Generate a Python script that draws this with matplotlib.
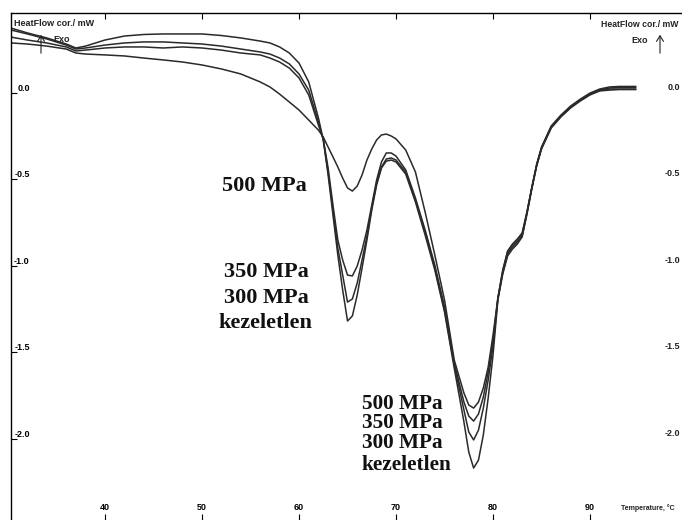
import matplotlib
matplotlib.use('Agg')
import matplotlib.pyplot as plt

plt.rcParams['font.family'] = ['Liberation Sans', 'DejaVu Sans']

temperature = [30.3, 32, 34, 36, 37, 38, 40, 42, 44, 46, 48, 50, 52, 54, 56, 57, 58, 59, 60, 61,
               62, 62.5, 63, 63.5, 64, 64.5, 65, 65.5, 66, 66.5, 67, 67.5, 68, 68.5, 69, 69.5, 70,
               71, 72, 73, 74, 75, 76, 77, 77.5, 78, 78.5, 79, 79.5, 80, 80.5, 81, 81.5, 82, 82.5,
               83, 83.5, 84, 84.5, 85, 86, 87, 88, 89, 90, 91, 92, 93, 94, 94.7]

kezeletlen = [0.372, 0.344, 0.315, 0.280, 0.257, 0.268, 0.303, 0.326, 0.335, 0.338,
              0.338, 0.338, 0.329, 0.315, 0.297, 0.286, 0.263, 0.228, 0.170, 0.061,
              -0.147, -0.274, -0.476, -0.707, -0.938, -1.140, -1.319, -1.290, -1.169, -1.013,
              -0.852, -0.678, -0.534, -0.436, -0.396, -0.390, -0.401, -0.471, -0.632, -0.823,
              -1.025, -1.267, -1.591, -1.902, -2.076, -2.168, -2.122, -1.977, -1.764, -1.516,
              -1.198, -1.048, -0.944, -0.904, -0.875, -0.834, -0.702, -0.557, -0.424, -0.326,
              -0.205, -0.141, -0.089, -0.049, -0.014, 0.009, 0.014, 0.017, 0.017, 0.017]

mpa300 = [0.361, 0.338, 0.309, 0.274, 0.251, 0.257, 0.274, 0.286, 0.292, 0.292,
          0.286, 0.280, 0.268, 0.251, 0.234, 0.222, 0.199, 0.165, 0.107, 0.014,
          -0.170, -0.274, -0.459, -0.678, -0.898, -1.054, -1.210, -1.192, -1.100, -0.967,
          -0.829, -0.667, -0.523, -0.430, -0.384, -0.378, -0.390, -0.459, -0.621, -0.805,
          -1.013, -1.256, -1.573, -1.833, -1.960, -2.006, -1.949, -1.822, -1.660, -1.464,
          -1.192, -1.042, -0.932, -0.892, -0.863, -0.829, -0.696, -0.551, -0.419, -0.320,
          -0.199, -0.136, -0.084, -0.043, -0.009, 0.014, 0.020, 0.020, 0.020, 0.020]

mpa350 = [0.320, 0.303, 0.286, 0.263, 0.240, 0.245, 0.257, 0.263, 0.263, 0.257,
          0.263, 0.257, 0.245, 0.228, 0.217, 0.199, 0.176, 0.141, 0.084, -0.014,
          -0.188, -0.268, -0.436, -0.650, -0.852, -0.967, -1.054, -1.059, -1.002, -0.909,
          -0.794, -0.650, -0.505, -0.401, -0.349, -0.349, -0.367, -0.447, -0.609, -0.794,
          -0.996, -1.238, -1.562, -1.787, -1.868, -1.897, -1.856, -1.758, -1.614, -1.429,
          -1.187, -1.031, -0.921, -0.880, -0.852, -0.817, -0.690, -0.551, -0.419, -0.320,
          -0.199, -0.136, -0.084, -0.043, -0.009, 0.014, 0.026, 0.029, 0.029, 0.029]

mpa500 = [0.286, 0.280, 0.268, 0.251, 0.228, 0.222, 0.217, 0.211, 0.199, 0.188,
          0.176, 0.159, 0.136, 0.107, 0.061, 0.032, -0.009, -0.055, -0.101, -0.159,
          -0.217, -0.257, -0.315, -0.372, -0.430, -0.494, -0.551, -0.569, -0.540, -0.476,
          -0.390, -0.326, -0.274, -0.245, -0.240, -0.251, -0.268, -0.332, -0.459, -0.690,
          -0.938, -1.198, -1.544, -1.735, -1.804, -1.822, -1.787, -1.706, -1.585, -1.400,
          -1.187, -1.025, -0.915, -0.875, -0.846, -0.811, -0.690, -0.546, -0.413, -0.315,
          -0.193, -0.130, -0.078, -0.038, -0.003, 0.020, 0.032, 0.035, 0.035, 0.035]

x_ticks = [40, 50, 60, 70, 80, 90]
y_ticks = [0.0, -0.5, -1.0, -1.5, -2.0]
y_tick_labels = ['0.0', '-0.5', '-1.0', '-1.5', '-2.0']
peak_labels = ['500 MPa', '350 MPa', '300 MPa', 'kezeletlen']

W, H = 682, 520
fig = plt.figure(figsize=(W / 100, H / 100), dpi=100)
fig.patch.set_facecolor('white')
ax = fig.add_axes([11 / W, 0, 671 / W, 507 / H])
ax.set_xlim(30.31, 99.48)
ax.set_ylim(-2.468, 0.459)

for series in [kezeletlen, mpa300, mpa350, mpa500]:
    ax.plot(temperature, series, color='#2a2a2a', lw=1.1, solid_joinstyle='round')

ax.spines['right'].set_visible(False)
ax.spines['bottom'].set_visible(False)
ax.spines['left'].set_linewidth(1.0)
ax.spines['top'].set_linewidth(1.0)

ax.set_xticks(x_ticks)
ax.set_xticklabels([str(t) for t in x_ticks])
ax.set_yticks(y_ticks)
ax.set_yticklabels(y_tick_labels)
ax.tick_params(axis='x', direction='in', length=4, width=0.8, top=True, bottom=True,
               labelsize=6.5, pad=-5.8)
ax.tick_params(axis='y', direction='in', length=4.5, width=0.8, labelsize=6.5, pad=-13.5)
for lbl in ax.get_xticklabels():
    lbl.set_fontweight('bold')
    lbl.set_va('bottom')
for lbl in ax.get_yticklabels():
    lbl.set_fontweight('bold')
    lbl.set_ha('right')
    lbl.set_va('bottom')

# right-hand axis labels
for v, s in zip(y_ticks, y_tick_labels):
    ypix = ax.transData.transform((50, v))[1]
    fig.text(680 / W, (ypix + 1) / H, s, ha='right', va='bottom', fontsize=6.5,
             fontweight='bold', color='#222')

# header texts
fig.text(14 / W, 1 - 23 / H, 'HeatFlow cor./ mW', ha='left', va='center', fontsize=6.5,
         fontweight='bold', color='#222')
fig.text(601 / W, 1 - 24 / H, 'HeatFlow cor./ mW', ha='left', va='center', fontsize=6.2,
         fontweight='bold', color='#222')
fig.text(53 / W, 1 - 40 / H, 'Exo', ha='left', va='center', fontsize=6.5,
         fontweight='bold', color='#222')
fig.text(631 / W, 1 - 41 / H, 'Exo', ha='left', va='center', fontsize=6.5,
         fontweight='bold', color='#222')
for ax_x in (41, 660):
    fig.add_artist(matplotlib.patches.FancyArrowPatch(
        (ax_x / W, 1 - 56 / H), (ax_x / W, 1 - 32 / H), transform=fig.transFigure,
        arrowstyle='->,head_length=4,head_width=2.5', lw=0.8, color='#222',
        mutation_scale=1))
fig.text(621 / W, 12 / H, 'Temperature, \u00b0C', ha='left', va='center', fontsize=5,
         fontweight='bold', color='#222')

# peak annotations
serif = ['Liberation Serif', 'DejaVu Serif']
group1 = [(222, 186), (224, 272), (224, 298), (218, 323)]
group2 = [(362, 404), (362, 423), (362, 443), (361, 465)]
for (px, py), s in zip(group1, peak_labels):
    fig.text(px / W, 1 - py / H, s, ha='left', va='center', fontsize=16,
             fontweight='bold', family=serif, color='#111')
for (px, py), s in zip(group2, peak_labels):
    fig.text(px / W, 1 - py / H, s, ha='left', va='center', fontsize=15.3,
             fontweight='bold', family=serif, color='#111')

fig.savefig('out.png', dpi=100)
